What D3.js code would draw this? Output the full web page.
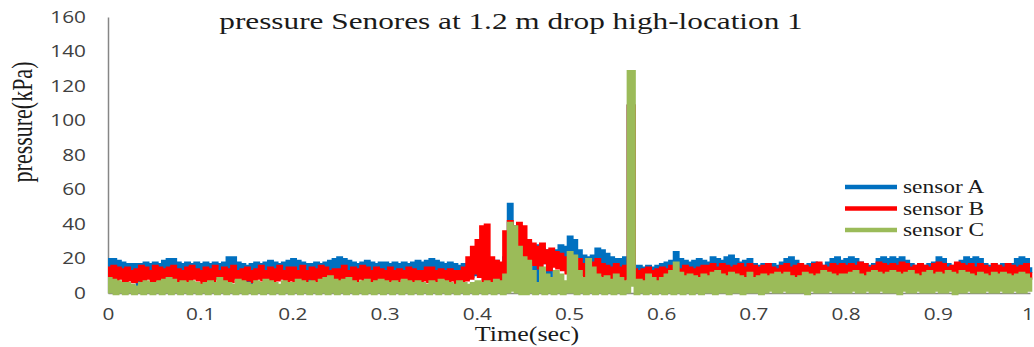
<!DOCTYPE html>
<html>
<head>
<meta charset="utf-8">
<script src="https://cdn.jsdelivr.net/npm/d3@7"></script>
<style>
  body { margin: 0; background: #fff; }
  svg { display: block; }
  .tick text { font-family: "Open Sans", sans-serif; font-size: 16px; fill: #404040; }
  .serif { font-family: "Liberation Serif", "Times New Roman", serif; fill: #1a1a1a; }
</style>
</head>
<body>
<div id="chart"></div>
<script>
// sampled every 0.0025 s, read off the picture (one row = 0.05 s)
// the signals flicker fast, so samples swing between the top and bottom of each band
const dt = 0.0025
const sensorA = [
  19,10, 19,11, 18,12, 17,10, 16,11, 16,12, 16,3, 16,9, 17,10, 16,11,
  17,10, 16,11, 18,12, 19,10, 19,11, 17,12, 16,10, 17,11, 16,12, 17,10,
  16,11, 17,10, 16,12, 17,11, 16,10, 17,12, 20,11, 20,10, 17,12, 16,11,
  15,2, 16,10, 17,11, 16,12, 17,10, 18,11, 17,12, 16,10, 17,11, 18,12,
  19,10, 18,11, 17,12, 16,2, 16,10, 17,11, 16,12, 17,10, 18,11, 19,12,
  20,11, 19,10, 18,12, 17,11, 16,10, 17,12, 18,11, 17,10, 16,12, 17,11,
  17,10, 16,11, 17,12, 16,10, 17,11, 16,12, 17,10, 18,11, 17,12, 18,10,
  19,11, 18,12, 17,10, 16,11, 17,12, 16,10, 15,11, 16,12, 15,10, 16,11,
  16,12, 15,11, 16,12, 17,10, 18,12, 16,11, 20,14, 51,30, 38,24, 30,22,
  27,20, 29,22, 26,2, 27,20, 25,18, 24,2, 22,18, 24,17, 27,20, 26,19,
  32,22, 30,20, 24,15, 21,14, 20,13, 21,14, 25,16, 24,15, 22,14, 20,13,
  19,12, 19,13, 20,12, 108,108, 14,11, 15,12, 14,10, 15,11, 14,12, 15,11,
  16,12, 17,11, 18,13, 23,14, 19,12, 18,12, 17,11, 18,13, 19,12, 18,12,
  17,13, 20,14, 19,13, 18,12, 20,13, 21,14, 19,13, 17,12, 18,13, 19,14,
  16,12, 15,11, 16,12, 15,13, 16,12, 15,11, 17,12, 19,13, 20,14, 18,12,
  16,12, 15,11, 16,13, 17,12, 16,11, 15,12, 17,13, 19,14, 20,13, 18,12,
  19,13, 20,14, 19,13, 17,12, 16,13, 15,12, 16,11, 19,13, 20,14, 19,13,
  20,14, 19,13, 20,12, 18,13, 16,12, 15,11, 16,12, 15,13, 16,12, 17,11,
  20,13, 19,12, 16,13, 15,12, 16,11, 18,13, 20,14, 19,13, 20,12, 19,13,
  16,12, 15,11, 16,12, 15,13, 16,12, 15,11, 16,12, 19,13, 20,14, 19,13,
  15
]
const sensorB = [
  14,7, 15,8, 14,9, 13,6, 14,8, 12,7, 13,8, 15,7, 14,9, 12,6,
  15,8, 14,7, 13,9, 14,8, 15,6, 13,7, 12,8, 14,7, 15,9, 13,8,
  12,6, 14,8, 13,7, 15,9, 12,6, 14,8, 13,7, 15,9, 12,6, 13,8,
  14,8, 12,7, 13,9, 15,8, 12,7, 14,6, 13,8, 15,9, 12,7, 14,8,
  14,6, 12,8, 15,7, 12,9, 14,8, 13,6, 15,7, 14,9, 12,8, 13,7,
  13,7, 15,9, 12,8, 14,7, 13,9, 15,8, 14,7, 12,6, 14,8, 13,7,
  12,7, 14,8, 12,6, 13,9, 12,7, 14,8, 13,6, 12,7, 12,8, 14,7,
  14,8, 12,6, 13,9, 12,7, 13,8, 12,6, 12,7, 14,8, 20,9, 26,12,
  30,10, 38,6, 39,5, 20,5, 18,6, 17,8, 35,10, 41,15, 37,20, 40,18,
  38,20, 30,18, 28,17, 26,15, 28,18, 24,14, 25,16, 23,15, 22,14, 20,12,
  20,12, 18,10, 19,11, 16,9, 18,10, 17,9, 19,11, 16,10, 15,9, 14,8,
  16,9, 14,8, 15,9, 108,108, 13,7, 12,8, 13,7, 14,8, 12,6, 13,7,
  14,8, 13,7, 15,9, 14,8, 13,7, 15,8, 14,9, 13,7, 14,8, 15,9,
  15,9, 16,8, 14,7, 16,9, 15,8, 14,7, 15,9, 16,8, 14,9, 16,8,
  15,8, 14,9, 15,7, 16,8, 14,9, 13,7, 15,8, 16,9, 14,8, 15,9,
  16,8, 15,10, 14,9, 16,8, 17,9, 15,8, 14,10, 16,9, 15,8, 16,9,
  15,9, 16,8, 15,10, 17,9, 16,8, 14,9, 15,10, 17,8, 16,9, 15,10,
  16,8, 15,9, 17,10, 16,8, 14,9, 15,10, 16,8, 15,9, 14,10, 16,8,
  17,9, 16,8, 14,10, 15,9, 17,8, 16,10, 15,9, 16,8, 14,9, 16,10,
  15,9, 14,8, 16,10, 15,9, 14,8, 16,10, 15,9, 14,8, 15,10, 16,9,
  12
]
const sensorC = [
  8,1, 7,0, 6,1, 5,0, 5,1, 4,0, 3,1, 5,0, 6,1, 5,0,
  5,1, 6,0, 7,1, 8,0, 7,1, 5,0, 6,1, 5,0, 6,1, 5,0,
  4,1, 5,0, 6,1, 5,0, 8,1, 6,0, 5,1, 4,0, 7,1, 6,0,
  5,1, 4,0, 6,1, 5,0, 7,1, 6,0, 5,1, 4,0, 6,1, 5,0,
  5,1, 7,0, 6,1, 5,0, 6,1, 5,0, 7,1, 8,0, 9,1, 7,0,
  6,1, 7,0, 8,1, 6,0, 5,1, 6,0, 7,1, 5,0, 6,1, 7,0,
  6,1, 5,0, 6,1, 5,0, 7,1, 6,0, 5,1, 6,0, 5,1, 4,0,
  6,1, 5,0, 7,1, 6,0, 5,1, 4,0, 6,1, 5,0, 4,1, 5,0,
  6,1, 5,0, 6,1, 5,0, 7,1, 6,0, 10,1, 40,2, 38,1, 26,0,
  20,0, 18,1, 12,0, 5,1, 14,0, 10,1, 8,0, 12,1, 10,0, 6,1,
  23,1, 21,0, 12,1, 8,0, 19,1, 14,0, 10,1, 8,0, 9,1, 7,0,
  10,1, 8,0, 6,1, 128,128, 5,0, 7,1, 6,0, 10,1, 8,0, 6,1,
  8,0, 10,1, 12,0, 17,1, 11,0, 9,1, 10,0, 9,1, 8,0, 10,1,
  9,1, 11,0, 12,1, 10,1, 9,0, 11,1, 10,1, 9,0, 8,1, 11,1,
  8,1, 9,0, 10,1, 9,2, 10,1, 11,1, 10,2, 11,1, 9,1, 8,1,
  9,1, 11,0, 10,2, 9,1, 10,1, 12,1, 11,2, 10,1, 9,1, 10,1,
  10,1, 11,2, 12,1, 10,1, 9,2, 11,1, 12,1, 11,2, 10,1, 11,1,
  12,1, 11,0, 10,2, 11,1, 12,1, 10,2, 9,1, 11,1, 12,1, 10,2,
  11,1, 10,1, 12,2, 11,0, 10,1, 12,1, 11,2, 10,1, 9,1, 11,1,
  10,2, 9,1, 11,1, 10,2, 11,1, 10,1, 9,2, 10,1, 11,1, 10,2,
  9
]
const seriesNames = ['sensor A', 'sensor B', 'sensor C']
const seriesColors = ['#0070c0', '#ff0000', '#9bbb59']
const xTicks = [0, 0.1, 0.2, 0.3, 0.4, 0.5, 0.6, 0.7, 0.8, 0.9, 1]
const yTicks = [0, 20, 40, 60, 80, 100, 120, 140, 160]

const width = 1034
const height = 347
const SX = 1.3 // the picture is stretched sideways

const svg = d3.select('#chart').append('svg')
  .attr('width', width)
  .attr('height', height)

const x = d3.scaleLinear().domain([0, 1]).range([108, 1030])
const y = d3.scaleLinear().domain([0, 160]).range([293, 17])

// axes
const xAxis = svg.append('g')
  .attr('transform', `translate(0,${y(0)})`)
  .call(d3.axisBottom(x).tickValues(xTicks).tickSize(0).tickPadding(16)
    .tickFormat(d => d === 0 || d === 1 ? d : d3.format('.1f')(d)))
xAxis.select('.domain').attr('stroke', '#868686').attr('stroke-width', 1.5)
xAxis.selectAll('text')
  .attr('transform', `scale(${SX},1)`)
  .attr('dx', d => d === 1 ? -2 : 0)

const yAxis = svg.append('g')
  .attr('transform', `translate(${x(0)},0)`)
  .call(d3.axisLeft(y).tickValues(yTicks).tickSize(0).tickSizeOuter(0))
yAxis.select('.domain').attr('stroke', '#868686').attr('stroke-width', 1.5)
yAxis.selectAll('text')
  .attr('x', -22 / SX)
  .attr('transform', `scale(${SX},1)`)

// lines
const line = d3.line()
  .x((d, i) => x(i * dt))
  .y(d => y(d))
  .curve(d3.curveStepAfter)

const allSeries = [sensorA, sensorB, sensorC]
svg.append('g')
  .selectAll('path')
  .data(allSeries)
  .join('path')
  .attr('d', line)
  .attr('fill', 'none')
  .attr('stroke', (d, i) => seriesColors[i])
  .attr('stroke-width', 4.6)

// title and axis titles
svg.append('text')
  .attr('class', 'serif')
  .attr('text-anchor', 'middle')
  .attr('transform', `translate(511,29) scale(1.36,1)`)
  .style('font-size', '23px')
  .text('pressure Senores at 1.2 m drop high-location 1')

svg.append('text')
  .attr('class', 'serif')
  .attr('text-anchor', 'middle')
  .attr('transform', `translate(527,341) scale(${SX},1)`)
  .style('font-size', '20px')
  .text('Time(sec)')

svg.append('text')
  .attr('class', 'serif')
  .attr('text-anchor', 'middle')
  .attr('transform', `translate(32,122) scale(${SX},1) rotate(-90)`)
  .style('font-size', '22px')
  .text('pressure(kPa)')

// legend
const legend = svg.append('g')
  .selectAll('g')
  .data(seriesNames)
  .join('g')
  .attr('transform', (d, i) => `translate(845,${187 + i * 21.5})`)
legend.append('line')
  .attr('x1', 0).attr('x2', 52)
  .attr('stroke', (d, i) => seriesColors[i])
  .attr('stroke-width', 4.5)
legend.append('text')
  .attr('class', 'serif')
  .attr('transform', `translate(58,6) scale(${SX},1)`)
  .style('font-size', '18px')
  .text(d => d)
</script>
</body>
</html>
